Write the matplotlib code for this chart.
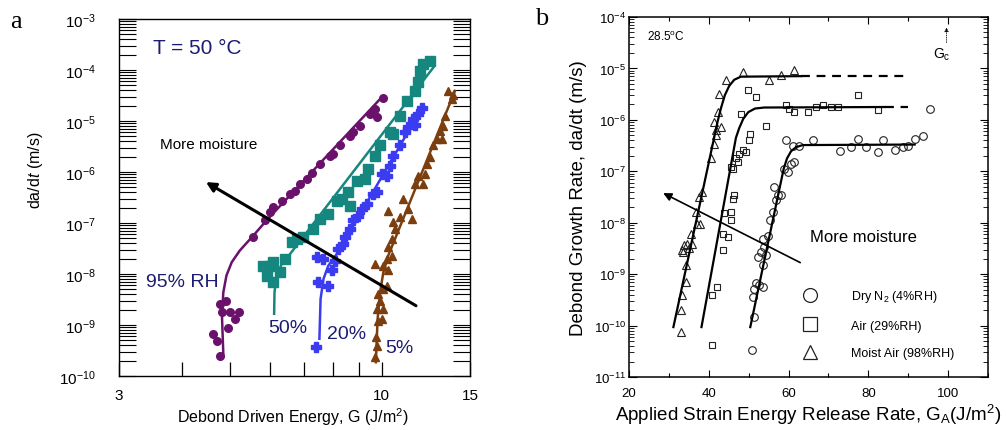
import numpy as np
import matplotlib
matplotlib.use("Agg")
import matplotlib.pyplot as plt
from matplotlib.lines import Line2D
from matplotlib.ticker import LogLocator, NullFormatter, FixedLocator, FixedFormatter, MultipleLocator

plt.rcParams['font.family'] = ['Liberation Sans', 'DejaVu Sans']
plt.rcParams['mathtext.fontset'] = 'custom'
plt.rcParams['mathtext.rm'] = 'Liberation Sans'
plt.rcParams['mathtext.it'] = 'Liberation Sans:italic'
plt.rcParams['mathtext.bf'] = 'Liberation Sans:bold'

# ---- panel a : T = 50 C, G in J/m^2, rate as log10(m/s) ----
g95 = [4.77, 4.62, 4.71, 4.77, 4.91, 4.80, 4.99, 5.19, 5.11, 4.95, 5.55, 5.86, 5.99, 6.09, 6.33, 6.57,
       6.72, 6.88, 7.09, 7.26, 7.54, 7.89, 8.02, 8.26, 8.65, 8.79, 9.06, 9.48, 9.70, 9.78, 10.05]
r95 = [-9.60, -9.18, -9.31, -8.59, -8.52, -8.75, -8.75, -8.75, -8.88, -9.05, -7.27, -6.95, -6.79, -6.69,
       -6.56, -6.43, -6.37, -6.24, -6.14, -6.01, -5.84, -5.68, -5.65, -5.48, -5.29, -5.22, -5.09, -4.86,
       -4.76, -4.93, -4.55]
fit95_g = [4.84, 4.81, 4.84, 4.91, 5.03, 5.22, 5.55, 5.90, 9.93]
fit95_r = [-9.57, -8.82, -8.36, -8.03, -7.77, -7.54, -7.25, -6.95, -4.57]

g50 = [5.81, 5.99, 6.09, 5.90, 6.09, 6.28, 6.42, 6.62, 6.77, 6.99, 7.31, 7.54, 7.83, 8.14, 8.33, 8.65,
       8.59, 8.92, 9.27, 9.41, 9.70, 9.93, 10.39, 10.55, 10.88, 11.22, 11.66, 11.84, 11.93, 12.11, 12.49]
r50 = [-7.84, -7.84, -7.77, -8.03, -8.16, -7.97, -7.71, -7.38, -7.31, -7.28, -7.12, -6.92, -6.82, -6.56,
       -6.53, -6.66, -6.40, -6.17, -6.14, -5.94, -5.68, -5.48, -5.22, -5.25, -4.90, -4.60, -4.41, -4.24,
       -4.01, -3.88, -3.82]
fit50_g = [6.11, 6.12, 6.18, 6.33, 6.57, 12.68]
fit50_r = [-8.78, -8.36, -8.03, -7.80, -7.61, -3.95]

g20 = [7.40, 7.43, 7.66, 7.48, 7.83, 7.95, 8.08, 8.20, 8.39, 8.46, 8.65, 8.79, 8.99, 9.13, 9.34, 9.63,
       9.78, 10.00, 10.24, 10.39, 10.55, 10.88, 11.13, 11.31, 11.57, 11.66, 11.84, 12.02]
r20 = [-9.44, -7.67, -7.71, -8.16, -8.23, -7.93, -7.74, -7.51, -7.41, -7.28, -7.12, -6.95, -6.86, -6.73,
       -6.63, -6.43, -6.40, -6.04, -6.07, -5.88, -5.68, -5.48, -5.22, -5.12, -4.96, -5.08, -4.86, -4.75]
fit20_g = [7.52, 7.56, 7.66, 7.83, 8.14, 12.11]
fit20_r = [-9.27, -8.49, -8.10, -7.84, -7.61, -4.70]

g5 = [9.70, 9.78, 9.74, 9.85, 10.00, 9.78, 10.08, 9.93, 9.85, 10.08, 10.24, 10.31, 9.70, 10.24, 10.08,
      10.47, 10.31, 10.47, 10.63, 10.55, 10.31, 10.88, 11.05, 11.48, 11.31, 11.66, 12.11, 11.84, 12.20,
      12.30, 12.49, 12.68, 12.87, 13.17, 13.07, 13.27, 13.37, 13.58, 13.79, 13.90]
r5 = [-9.63, -9.41, -9.24, -8.92, -8.88, -8.69, -8.69, -8.52, -8.39, -8.29, -8.23, -7.93, -7.80, -7.71,
      -7.84, -7.64, -7.48, -7.31, -7.12, -6.99, -6.76, -6.89, -6.53, -6.92, -6.73, -6.24, -6.24, -6.07,
      -6.04, -5.84, -5.71, -5.48, -5.35, -5.35, -5.19, -5.09, -4.90, -4.41, -4.57, -4.50]
fit5_g = [9.74, 9.82, 9.93, 10.08, 10.31, 14.00]
fit5_r = [-9.73, -8.88, -8.36, -7.97, -7.64, -4.41]

xticks_a = [3, 4, 5, 6, 7, 8, 9, 10, 15]
xlabels_a = ['3', '', '', '', '', '', '', '10', '15']
yticks_a = [1e-10, 1e-9, 1e-8, 1e-7, 1e-6, 1e-5, 1e-4, 1e-3]

# ---- panel b : 28.5 C, G_A in J/m^2, rate as log10(m/s) ----
gb4 = [50.74, 51.41, 51.0, 51.83, 53.51, 51.41, 52.67, 52.25, 53.51, 54.35, 53.09, 53.93, 53.51, 54.76,
       55.43, 56.02, 56.86, 57.28, 58.12, 56.44, 58.95, 59.96, 60.63, 61.47, 59.37, 61.05, 62.72, 66.07,
       72.78, 77.38, 75.71, 79.48, 82.41, 83.67, 86.60, 88.69, 89.95, 91.62, 93.72, 95.39]
rb4 = [-10.48, -9.83, -9.44, -9.18, -9.25, -9.28, -9.22, -8.67, -8.83, -8.63, -8.57, -8.47, -8.31, -8.25,
       -7.95, -7.79, -7.56, -7.47, -7.47, -7.31, -6.95, -7.01, -6.85, -6.82, -6.40, -6.50, -6.50, -6.40,
       -6.61, -6.37, -6.53, -6.53, -6.62, -6.40, -6.58, -6.53, -6.50, -6.37, -6.31, -5.78]
fitb4_g = [50.41, 58.79, 59.62, 60.63, 61.89, 63.56, 91.62]
fitb4_r = [-10.03, -6.95, -6.75, -6.61, -6.53, -6.49, -6.48]

gb29 = [40.7, 40.94, 42.03, 43.46, 44.71, 43.46, 45.55, 45.55, 43.71, 45.97, 46.39, 45.55, 45.97, 47.23,
        46.81, 47.64, 48.48, 49.32, 50.16, 50.41, 48.06, 49.74, 51.83, 54.35, 59.37, 61.47, 60.21, 64.82,
        66.91, 68.59, 70.68, 72.36, 77.38, 82.41]
rb29 = [-10.38, -9.41, -9.25, -8.54, -8.28, -8.21, -7.95, -7.79, -7.82, -7.53, -7.47, -6.92, -6.95, -6.82,
        -6.75, -6.66, -6.59, -6.62, -6.40, -6.27, -5.88, -5.41, -5.56, -6.11, -5.72, -5.85, -5.78, -5.85,
        -5.75, -5.72, -5.75, -5.75, -5.52, -5.80]
fitb29_g = [38.18, 46.81, 47.64, 48.65, 49.91, 51.58, 53.93, 84.08]
fitb29_r = [-10.03, -6.35, -6.16, -5.98, -5.85, -5.78, -5.76, -5.75]
extb29_g = [84.08, 89.95]

gb98 = [32.98, 32.98, 33.40, 34.24, 34.24, 33.65, 33.82, 34.66, 35.50, 35.92, 35.08, 33.40, 37.17, 37.84,
        36.75, 37.59, 38.43, 40.52, 41.36, 41.78, 41.78, 41.36, 43.04, 42.20, 42.62, 44.29, 48.48, 55.18,
        58.12, 61.47]
rb98 = [-10.12, -9.70, -9.41, -9.15, -8.83, -8.57, -8.44, -8.41, -8.21, -8.41, -8.50, -8.54, -8.02, -8.02,
        -7.79, -7.50, -7.40, -6.75, -6.46, -6.30, -6.20, -6.04, -6.14, -5.85, -5.49, -5.23, -5.07, -5.23,
        -5.13, -5.04]
fitb98_g = [31.14, 42.20, 43.04, 44.04, 45.13, 46.39, 48.06, 63.14]
fitb98_r = [-10.03, -6.04, -5.78, -5.52, -5.34, -5.22, -5.16, -5.15]
extb98_g = [63.14, 89.53]

yticks_b = [1e-11, 1e-10, 1e-9, 1e-8, 1e-7, 1e-6, 1e-5, 1e-4]
gc_value = 99.6


def lg(v):
    return 10.0 ** np.asarray(v)


fig = plt.figure(figsize=(10.06, 4.31), dpi=100)

# ================= panel a =================
ax = fig.add_axes([0.1183, 0.1253, 0.3489, 0.8283])
ax.set_xscale('log')
ax.set_yscale('log')
ax.set_xlim(3, 15)
ax.set_ylim(1e-10, 1e-3)

series_a = [
    (g95, r95, fit95_g, fit95_r, '#6a116c', 'o', 5.5),
    (g50, r50, fit50_g, fit50_r, '#16877e', 's', 6.5),
    (g20, r20, fit20_g, fit20_r, '#3b3bf2', 'P', 6.5),
    (g5, r5, fit5_g, fit5_r, '#7b3e0f', '^', 5.5),
]
for g, r, fg, fr, col, mk, ms in series_a:
    ax.plot(g, lg(r), ls='none', marker=mk, ms=ms, color=col, mec=col, zorder=3)
    ax.plot(fg, lg(fr), color=col, lw=1.8, zorder=4)

ax.annotate('', xy=(4.42, lg(-6.17)), xytext=(11.84, lg(-8.65)),
            arrowprops=dict(arrowstyle='-|>', color='black', lw=2.2, mutation_scale=14), zorder=5)

ax.xaxis.set_major_locator(FixedLocator(xticks_a))
ax.xaxis.set_major_formatter(FixedFormatter(xlabels_a))
ax.xaxis.set_minor_locator(FixedLocator([]))
ax.tick_params(axis='x', which='major', direction='in', length=10, width=0.9, top=False,
               labelsize=11, pad=9)
ax.yaxis.set_major_locator(FixedLocator(yticks_a))
ax.yaxis.set_minor_locator(LogLocator(base=10, subs=np.arange(2, 10), numticks=100))
ax.yaxis.set_minor_formatter(NullFormatter())
ax.tick_params(axis='y', which='both', direction='in', length=12, width=0.8, left=True, right=True,
               labelsize=11, pad=17)
for s in ax.spines.values():
    s.set_linewidth(1.0)

navy = '#1c1c72'
ax.text(0.097, 0.919, 'T = 50 °C', transform=ax.transAxes, color=navy, fontsize=15, va='center')
ax.text(0.117, 0.650, 'More moisture', transform=ax.transAxes, color='black', fontsize=11, va='center')
ax.text(0.077, 0.266, '95% RH', transform=ax.transAxes, color=navy, fontsize=14, va='center')
ax.text(0.425, 0.137, '50%', transform=ax.transAxes, color=navy, fontsize=14, va='center')
ax.text(0.593, 0.120, '20%', transform=ax.transAxes, color=navy, fontsize=14, va='center')
ax.text(0.758, 0.081, '5%', transform=ax.transAxes, color=navy, fontsize=14, va='center')

ax.set_ylabel(r'da/d$t$ (m/s)', fontsize=11.5)
ax.yaxis.set_label_coords(-0.211, 0.58)
ax.set_xlabel(r'Debond Driven Energy, G (J/m$^{2}$)', fontsize=11.5)
ax.xaxis.set_label_coords(0.496, -0.082)

# ================= panel b =================
bx = fig.add_axes([0.6252, 0.1230, 0.3569, 0.8352])
bx.set_yscale('log')
bx.set_xlim(20, 110)
bx.set_ylim(1e-11, 1e-4)

mk_kw = dict(ls='none', mfc='none', mec='#222222', mew=0.8, zorder=3)
bx.plot(gb4, lg(rb4), marker='o', ms=5.5, **mk_kw)
bx.plot(gb29, lg(rb29), marker='s', ms=5.0, **mk_kw)
bx.plot(gb98, lg(rb98), marker='^', ms=6.0, **mk_kw)

bx.plot(fitb4_g, lg(fitb4_r), color='black', lw=1.6, zorder=4)
bx.plot(fitb29_g, lg(fitb29_r), color='black', lw=1.6, zorder=4)
bx.plot(extb29_g, lg([fitb29_r[-1]] * 2), color='black', lw=1.6, ls=(0, (4, 3)), zorder=4)
bx.plot(fitb98_g, lg(fitb98_r), color='black', lw=1.6, zorder=4)
bx.plot(extb98_g, lg([fitb98_r[-1]] * 2), color='black', lw=1.6, ls=(0, (4, 3)), zorder=4)

bx.annotate('', xy=(27.96, lg(-7.40)), xytext=(63.56, lg(-8.80)),
            arrowprops=dict(arrowstyle='-|>', color='black', lw=1.2, mutation_scale=12), zorder=5)

# critical energy release rate marker
bx.annotate('', xy=(gc_value, lg(-4.15)), xytext=(gc_value, lg(-4.55)),
            arrowprops=dict(arrowstyle='-|>', color='black', lw=0.6, ls=':', mutation_scale=6))
bx.text(gc_value - 1.3, lg(-4.72), r'G$_\mathrm{c}$', fontsize=10, ha='center', va='center')

bx.text(0.05, 0.947, r'28.5$^\mathrm{o}$C', transform=bx.transAxes, fontsize=8.5, va='center')
bx.text(0.504, 0.389, 'More moisture', transform=bx.transAxes, fontsize=12, va='center')

bx.xaxis.set_major_locator(MultipleLocator(20))
bx.xaxis.set_minor_locator(MultipleLocator(10))
bx.tick_params(axis='x', which='major', direction='in', length=5, width=0.8, top=True, labelsize=9.5, pad=7)
bx.tick_params(axis='x', which='minor', direction='in', length=3, width=0.8, top=True)
bx.yaxis.set_major_locator(FixedLocator(yticks_b))
bx.yaxis.set_minor_locator(LogLocator(base=10, subs=np.arange(2, 10), numticks=100))
bx.yaxis.set_minor_formatter(NullFormatter())
bx.tick_params(axis='y', which='major', direction='in', length=6, width=0.8, right=True, labelsize=9.5, pad=2)
bx.tick_params(axis='y', which='minor', direction='in', length=3.5, width=0.6, right=True)
for s in bx.spines.values():
    s.set_linewidth(1.1)

handles = [
    Line2D([], [], ls='none', marker='o', ms=10, mfc='none', mec='#222222', mew=0.9),
    Line2D([], [], ls='none', marker='s', ms=10, mfc='none', mec='#222222', mew=0.9),
    Line2D([], [], ls='none', marker='^', ms=10, mfc='none', mec='#222222', mew=0.9),
]
labels = [r'Dry N$_2$ (4%RH)', 'Air (29%RH)', 'Moist Air (98%RH)']
bx.legend(handles, labels, loc='upper left', bbox_to_anchor=(0.487, 0.247), frameon=False,
          fontsize=9, handlelength=1.0, handletextpad=2.8, labelspacing=1.25,
          borderpad=0, borderaxespad=0)

bx.set_ylabel('Debond Growth Rate, da/dt (m/s)', fontsize=13.5)
bx.yaxis.set_label_coords(-0.117, 0.5)
bx.set_xlabel(r'Applied Strain Energy Release Rate, G$_\mathrm{A}$(J/m$^{2}$)', fontsize=13.5)
bx.xaxis.set_label_coords(0.499, -0.068)

fig.text(0.016, 0.95, 'a', family='Liberation Serif', fontsize=19, va='center', ha='center')
fig.text(0.538, 0.955, 'b', family='Liberation Serif', fontsize=19, va='center', ha='center')

fig.savefig('out.png', dpi=100)
